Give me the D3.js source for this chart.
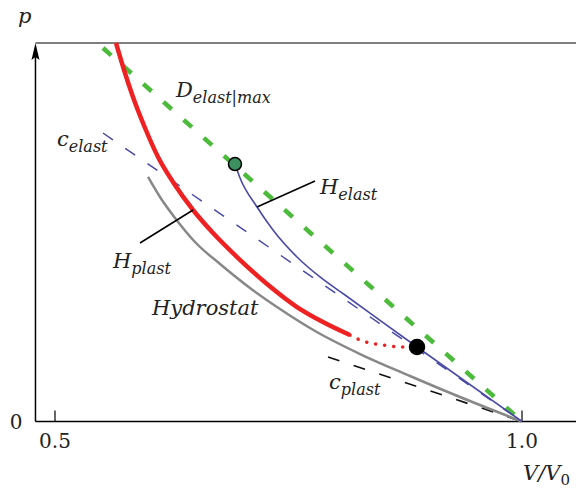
<!DOCTYPE html>
<meta charset="utf-8">
<style>
body { margin: 0; background: #fff; }
.lbl { font-style: italic; font-size: 21px; }
.num { font-size: 20px; }
</style>
<body>
<div id="svg"></div>
<script src="https://d3js.org/d3.v7.min.js"></script>
<script>

// data: x = V/V0, y = p (scaled so the top of the plot is 1)
var xTicks = [0.5, 1.0];
var xTickLabels = ["0.5", "1.0"];

// H_plast (solid red)
var plastV = [0.5653, 0.5739, 0.5835, 0.5964, 0.6103, 0.6263, 0.6478, 0.6692, 0.6949, 0.7270, 0.7591, 0.7869, 0.8158];
var plastP = [1.0000, 0.9287, 0.8573, 0.7754, 0.6988, 0.6328, 0.5588, 0.4980, 0.4346, 0.3633, 0.3025, 0.2629, 0.2285];

// red dotted part
var unloadV = [0.8158, 0.8266, 0.8373, 0.8480, 0.8587, 0.8694, 0.8876];
var unloadP = [0.2285, 0.2153, 0.2074, 0.2034, 0.1995, 0.1968, 0.1968];

// H_elast (blue)
var elastV = [0.6927, 0.6981, 0.7163, 0.7334, 0.7591, 0.7837, 0.8105, 0.8876, 1.0];
var elastP = [0.6803, 0.6433, 0.5667, 0.5059, 0.4346, 0.3818, 0.3342, 0.1968, 0.0];

// Hydrostat (gray)
var hydroV = [0.5996, 0.6124, 0.6285, 0.6499, 0.6767, 0.7088, 0.7409, 0.7784, 0.8266, 0.8801, 0.9336, 1.0];
var hydroP = [0.6460, 0.5931, 0.5376, 0.4742, 0.4161, 0.3527, 0.2972, 0.2391, 0.1783, 0.1202, 0.0647, 0.0];

// straight lines
var dMaxV = [0.5514, 1.0];
var dMaxP = [0.9868, 0.0];
var cElastV = [0.5514, 1.0];
var cElastP = [0.7622, 0.0];
var cPlastV = [0.7923, 1.0];
var cPlastP = [0.1704, 0.0];

// marked states
var pointV = [0.6927, 0.8876];
var pointP = [0.6803, 0.1968];

var xMin = 0.4791, xMax = 1.0578;

var serif = "DejaVu Serif";

var width = 576, height = 488;

var x = d3.scaleLinear().domain([0.5, 1.0]).range([55, 522]);
var y = d3.scaleLinear().domain([0, 1]).range([421.5, 43]);

var svg = d3.select("#svg").append("svg")
    .attr("width", width)
    .attr("height", height)
    .attr("font-family", serif);

function zip(vs, ps) {
  return vs.map(function(v, i) { return [v, ps[i]]; });
}

var line = d3.line()
    .x(function(d) { return x(d[0]); })
    .y(function(d) { return y(d[1]); });
var curve = d3.line()
    .curve(d3.curveMonotoneX)
    .x(function(d) { return x(d[0]); })
    .y(function(d) { return y(d[1]); });

// frame / axes
svg.append("line")
    .attr("x1", x(xMin)).attr("x2", x(xMax))
    .attr("y1", y(1)).attr("y2", y(1))
    .style("stroke", "#000").style("stroke-width", 1);
svg.append("line")
    .attr("x1", x(xMin)).attr("x2", x(xMax))
    .attr("y1", y(0)).attr("y2", y(0))
    .style("stroke", "#000").style("stroke-width", 1.5);
svg.append("line")
    .attr("x1", x(xMin)).attr("x2", x(xMin))
    .attr("y1", y(0)).attr("y2", y(1) + 10)
    .style("stroke", "#000").style("stroke-width", 1.5);
svg.append("path")
    .attr("d", "M" + x(xMin) + "," + y(1) + " l-4,17 l4,-3 l4,3 z")
    .style("fill", "#000");

svg.selectAll(".tick")
    .data(xTicks)
  .enter().append("line")
    .attr("x1", x).attr("x2", x)
    .attr("y1", y(0)).attr("y2", y(0) - 11)
    .style("stroke", "#000").style("stroke-width", 1.2);

svg.selectAll(".xlab")
    .data(xTicks)
  .enter().append("text")
    .attr("class", "num")
    .attr("font-family", serif)
    .attr("fill", "#222")
    .attr("x", x).attr("y", y(0) + 26)
    .style("text-anchor", "middle")
    .text(function(d, i) { return xTickLabels[i]; });

svg.append("text").attr("class", "num")
    .attr("font-family", serif).attr("fill", "#222")
    .attr("x", x(xMin) - 13).attr("y", y(0) + 7)
    .style("text-anchor", "end").text("0");

svg.append("text").attr("class", "lbl")
    .attr("font-family", serif).attr("fill", "#222")
    .attr("x", 18).attr("y", 23).text("p");

var vlab = svg.append("text").attr("class", "lbl")
    .attr("font-family", serif).attr("fill", "#222")
    .attr("x", 523).attr("y", 480);
vlab.append("tspan").text("V/V");
vlab.append("tspan").attr("dy", 5).style("font-size", "15px").style("font-style", "normal").text("0");

// lines
svg.append("path")
    .attr("d", line(zip(cElastV, cElastP)))
    .style("fill", "none").style("stroke", "#4a4aa6")
    .style("stroke-width", 1.5).style("stroke-dasharray", "12,15");

svg.append("path")
    .attr("d", line(zip(cPlastV, cPlastP)))
    .style("fill", "none").style("stroke", "#111")
    .style("stroke-width", 1.6).style("stroke-dasharray", "12,15");

svg.append("path")
    .attr("d", curve(zip(hydroV, hydroP)))
    .style("fill", "none").style("stroke", "#888")
    .style("stroke-width", 2.5);

svg.append("path")
    .attr("d", line(zip(dMaxV, dMaxP)))
    .style("fill", "none").style("stroke", "#4cba3a")
    .style("stroke-width", 4.5).style("stroke-dasharray", "11,16");

svg.append("path")
    .attr("d", curve(zip(elastV, elastP)))
    .style("fill", "none").style("stroke", "#4a4aa6")
    .style("stroke-width", 1.6);

svg.append("path")
    .attr("d", curve(zip(plastV, plastP)))
    .style("fill", "none").style("stroke", "#ee2222")
    .style("stroke-width", 4.5);

svg.append("path")
    .attr("d", curve(zip(unloadV, unloadP)))
    .style("fill", "none").style("stroke", "#ee2222")
    .style("stroke-width", 3.5).style("stroke-linecap", "round")
    .style("stroke-dasharray", "0.1,9");

// points
svg.selectAll(".pt")
    .data(zip(pointV, pointP))
  .enter().append("circle")
    .attr("cx", function(d) { return x(d[0]); })
    .attr("cy", function(d) { return y(d[1]); })
    .attr("r", function(d, i) { return i == 0 ? 6.5 : 7.5; })
    .style("fill", function(d, i) { return i == 0 ? "#3d9060" : "#000"; })
    .style("stroke", "#000").style("stroke-width", 1.5);

// leaders
svg.append("line")
    .attr("x1", x(0.7163)).attr("y1", y(0.5667))
    .attr("x2", x(0.7784)).attr("y2", y(0.6354))
    .style("stroke", "#000").style("stroke-width", 1.5);
svg.append("line")
    .attr("x1", x(0.6478)).attr("y1", y(0.5588))
    .attr("x2", x(0.5910)).attr("y2", y(0.4716))
    .style("stroke", "#000").style("stroke-width", 1.5);

// labels
function subLabel(px, py, main, sub) {
  var t = svg.append("text").attr("class", "lbl")
      .attr("font-family", serif).attr("fill", "#222")
      .attr("x", px).attr("y", py);
  t.append("tspan").text(main);
  t.append("tspan").attr("dy", 6).style("font-size", "16px").text(sub);
  return t;
}

subLabel(320, 194, "H", "elast");
subLabel(113, 268, "H", "plast");
subLabel(57, 146, "c", "elast");
subLabel(329, 389, "c", "plast");
subLabel(176, 97, "D", "elast|max");

svg.append("text").attr("class", "lbl")
    .attr("font-family", serif).attr("fill", "#222")
    .attr("x", 152).attr("y", 315).text("Hydrostat");

</script>
</body>
